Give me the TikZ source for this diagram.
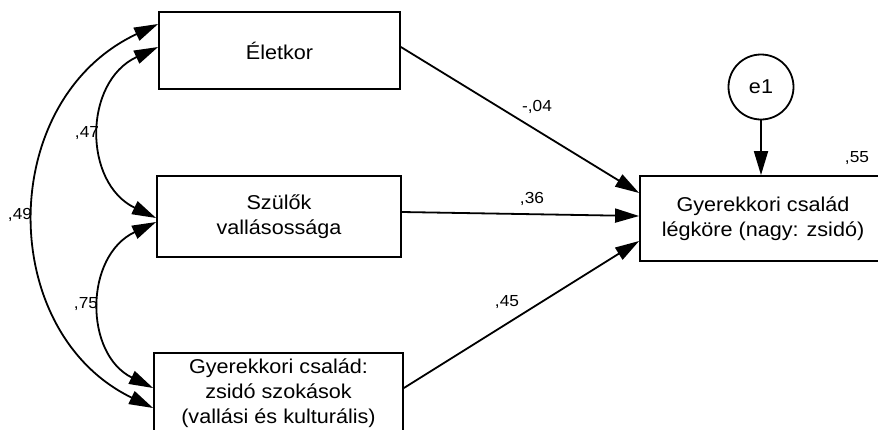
\documentclass[tikz,border=0pt]{standalone}
\usepackage{fontspec}
\setmainfont{Liberation Sans}[FakeStretch=1.08]
\usetikzlibrary{arrows.meta}
\begin{document}
\begin{tikzpicture}[x=1pt,y=-1pt,
  box/.style={draw, line width=1.8pt, inner sep=0pt, align=center, font=\fontsize{20}{25}\selectfont},
  lab/.style={font=\fontsize{16}{19}\selectfont, inner sep=0pt},
  conn/.style={line width=1.8pt, -{Triangle[length=24pt,width=14pt]}},
  corr/.style={line width=1.8pt, {Triangle[length=24pt,width=14pt]}-{Triangle[length=24pt,width=14pt]}}]
\clip (0,0) rectangle (878,429);
\node[box, minimum width=241pt, minimum height=77pt] (ele) at (279.5,50.5) {Életkor};
\node[box, minimum width=244pt, minimum height=81pt] (szu) at (279,216.5) {Szülők\\vallásossága};
\node[box, minimum width=249pt, minimum height=80pt] (gye) at (278.5,393) {Gyerekkori család:\\zsidó szokások\\(vallási és kulturális)};
\node[box, minimum width=246pt, minimum height=85pt] (tgt) at (763,218.5) {Gyerekkori család\\légköre (nagy: zsidó)};
\node[draw, circle, line width=1.8pt, minimum size=65pt, inner sep=0pt, font=\fontsize{20}{25}\selectfont] (e1) at (761,87) {e1};

\draw[conn] ([yshift=3.5pt]ele.east) -- ([yshift=25.5pt]tgt.west);
\draw[conn] ([yshift=4.5pt]szu.east) -- ([yshift=2.5pt]tgt.west);
\draw[conn] ([yshift=5pt]gye.east) -- ([yshift=-22.5pt]tgt.west);
\draw[conn] (e1.south) -- (e1.south |- tgt.north);

\draw[corr] ([yshift=26.5pt]ele.west) .. controls (-4,100) and (-4,332) .. ([yshift=-15pt]gye.west);
\draw[corr] ([yshift=3.5pt]ele.west) .. controls (83,82) and (83,183) .. ([yshift=-1.5pt]szu.west);
\draw[corr] ([yshift=-5.5pt]szu.west) .. controls (84,256) and (84,354) .. ([yshift=5pt]gye.west);

\node[lab] (l1) at (537,107) {-,04};
\node[lab] (l2) at (532,199) {,36};
\node[lab] (l3) at (507,302) {,45};
\node[lab] (l4) at (857,158) {,55};
\node[lab] (l5) at (87,133) {,47};
\node[lab] (l6) at (20,215) {,49};
\node[lab] (l7) at (86,304) {,75};
\end{tikzpicture}
\end{document}
